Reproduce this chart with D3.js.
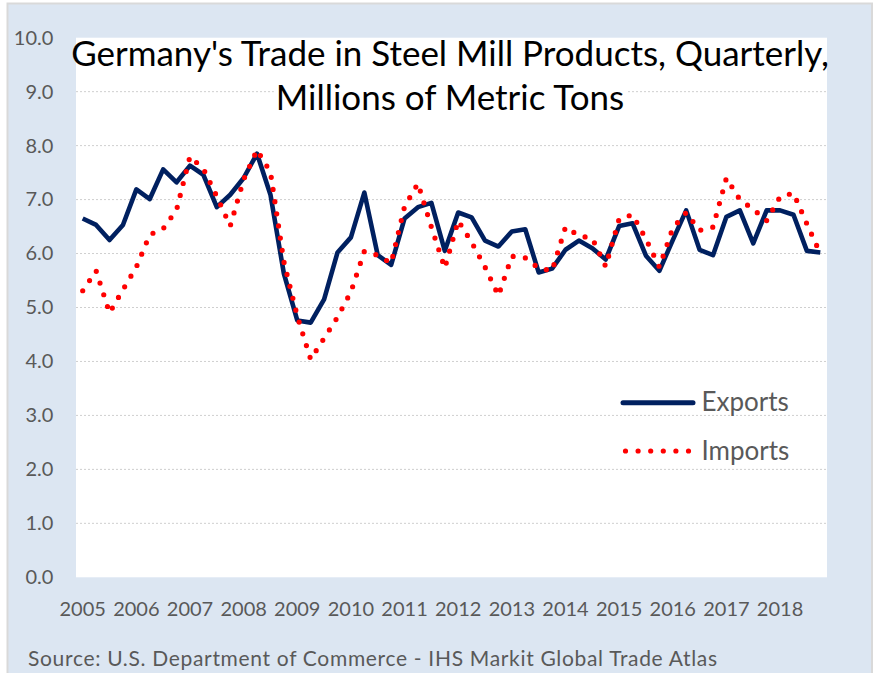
<!DOCTYPE html>
<html>
<head>
<meta charset="utf-8">
<script src="https://cdn.jsdelivr.net/npm/d3@7"></script>
<style>
  html, body { margin: 0; padding: 0; background: #fff; }
  svg { display: block; }
</style>
</head>
<body>
<div id="chart"></div>
<script>
// Data (millions of metric tons, quarterly)
const years = ["2005", "2006", "2007", "2008", "2009", "2010", "2011",
               "2012", "2013", "2014", "2015", "2016", "2017", "2018"];
const quarters = ["Q1", "Q2", "Q3", "Q4"];

const exportsData = [
  6.65, 6.53, 6.25, 6.53,  7.19, 7.01, 7.56, 7.32,  7.63, 7.46, 6.86, 7.09,
  7.40, 7.85, 7.09, 5.63,  4.76, 4.72, 5.15, 6.02,  6.30, 7.13, 5.97, 5.79,
  6.65, 6.86, 6.94, 6.05,  6.76, 6.67, 6.24, 6.13,  6.41, 6.45, 5.65, 5.72,
  6.07, 6.24, 6.10, 5.89,  6.51, 6.56, 5.96, 5.68,  6.25, 6.80, 6.07, 5.97,
  6.68, 6.80, 6.19, 6.80,  6.80, 6.72, 6.05, 6.02
];
const importsData = [
  5.31, 5.68, 4.90, 5.33,  5.75, 6.35, 6.46, 6.81,  7.80, 7.57, 7.06, 6.51,
  7.37, 7.92, 7.51, 5.85,  4.84, 4.04, 4.43, 4.82,  5.29, 6.04, 5.97, 5.82,
  6.87, 7.30, 6.49, 5.73,  6.61, 6.21, 5.75, 5.22,  5.95, 5.92, 5.73, 5.68,
  6.49, 6.33, 6.28, 5.76,  6.64, 6.72, 6.27, 5.75,  6.47, 6.76, 6.43, 6.49,
  7.40, 7.00, 6.82, 6.61,  7.05, 7.12, 6.55, 6.00
];

const yTicks = [0, 1, 2, 3, 4, 5, 6, 7, 8, 9, 10];
const gridValues = [1, 2, 3, 4, 5, 6, 7, 8, 9];
const seriesNames = ["Exports", "Imports"];
const titleLines = ["Germany's Trade in Steel Mill Products, Quarterly,",
                    "Millions of Metric Tons"];
const sourceText = "Source: U.S. Department of Commerce - IHS Markit Global Trade Atlas";

// Layout
const width = 874, height = 673;
const plot = { left: 76, right: 827, top: 37.7, bottom: 577.3 };
const font = "Lato, 'Open Sans', sans-serif";
const grey = "#595959";
const navy = "#002060";
const red = "#ff0000";

const periods = years.flatMap(y => quarters.map(q => `${y} ${q}`));

const svg = d3.select("#chart").append("svg")
    .attr("width", width)
    .attr("height", height)
    .style("font-family", font);

// chart background + plot area
svg.append("rect")
    .attr("x", 7.5).attr("y", 3.5)
    .attr("width", 864.5).attr("height", 680)
    .attr("fill", "#dce6f2")
    .attr("stroke", "#d9d9d9")
    .attr("stroke-width", 2);

svg.append("rect")
    .attr("x", plot.left).attr("y", plot.top)
    .attr("width", plot.right - plot.left)
    .attr("height", plot.bottom - plot.top)
    .attr("fill", "#fff");

// Scales
const x = d3.scaleBand()
    .domain(periods)
    .range([plot.left, plot.right])
    .padding(0);
const cx = p => x(p) + x.bandwidth() / 2;

const y = d3.scaleLinear()
    .domain([0, 10])
    .range([plot.bottom, plot.top]);

// Gridlines
svg.append("g")
  .selectAll("line")
  .data(gridValues)
  .enter().append("line")
    .attr("x1", plot.left)
    .attr("x2", plot.right)
    .attr("y1", d => y(d))
    .attr("y2", d => y(d))
    .attr("stroke", "#cfcfcf")
    .attr("stroke-width", 1)
    .attr("stroke-dasharray", "2 2");

// Y axis
svg.append("g")
    .attr("transform", `translate(${plot.left},0)`)
    .call(d3.axisLeft(y).tickValues(yTicks).tickSize(0).tickPadding(22.7)
        .tickFormat(d3.format(".1f")))
    .call(g => g.select(".domain").remove())
    .call(g => g.attr("font-family", font).attr("font-size", 20))
    .selectAll("text").attr("fill", grey);

// X axis
svg.append("g")
    .attr("transform", `translate(0,${plot.bottom})`)
    .call(d3.axisBottom(x)
        .tickValues(periods.filter(p => p.endsWith("Q1")))
        .tickFormat(p => p.slice(0, 4))
        .tickSize(0).tickPadding(25))
    .call(g => g.select(".domain").remove())
    .call(g => g.attr("font-family", font).attr("font-size", 20))
    .selectAll("text").attr("fill", grey);

// Title (second line sits on the 9.0 gridline, so it gets a white box)
const titleG = svg.append("g");
const titleText = titleG.selectAll("text")
    .data(titleLines)
  .enter().append("text")
    .attr("x", 450)
    .attr("y", (d, i) => i === 0 ? 65.7 : 110)
    .attr("text-anchor", "middle")
    .attr("fill", "#000")
    .style("font-size", "30px")
    .text(d => d);
const measured = titleText.nodes()[0].getComputedTextLength();
titleText.style("font-size", `${30 * 758 / measured}px`);
const b2 = titleText.nodes()[1].getBBox();
titleG.insert("rect", "text")
    .attr("x", b2.x - 2).attr("y", b2.y + 4)
    .attr("width", b2.width + 4).attr("height", b2.height - 6)
    .attr("fill", "#fff");

// Lines
const line = d3.line()
    .x((d, i) => cx(periods[i]))
    .y(d => y(d));

svg.append("path")
    .datum(exportsData)
    .attr("fill", "none")
    .attr("stroke", navy)
    .attr("stroke-width", 4.6)
    .attr("stroke-linejoin", "round")
    .attr("d", line);

svg.append("path")
    .datum(importsData)
    .attr("fill", "none")
    .attr("stroke", red)
    .attr("stroke-width", 5.2)
    .attr("stroke-linecap", "round")
    .attr("stroke-dasharray", "0 12.3")
    .attr("d", line);

// Legend
const legend = svg.selectAll(".legend")
    .data(seriesNames)
  .enter().append("g")
    .attr("class", "legend")
    .attr("transform", (d, i) => `translate(0,${402.7 + i * 48.3})`);

legend.append("line")
    .attr("x1", d => d === "Exports" ? 623 : 625.5)
    .attr("x2", d => d === "Exports" ? 693 : 690)
    .attr("stroke", d => d === "Exports" ? navy : red)
    .attr("stroke-width", d => d === "Exports" ? 5 : 5.2)
    .attr("stroke-linecap", "round")
    .attr("stroke-dasharray", d => d === "Exports" ? null : "0 12.6");

legend.append("text")
    .attr("x", 701.5)
    .attr("y", 8.5)
    .attr("fill", grey)
    .style("font-size", "26px")
    .text(d => d);

// Source note
svg.append("text")
    .attr("x", 28)
    .attr("y", 666)
    .attr("fill", grey)
    .attr("textLength", 689)
    .attr("lengthAdjust", "spacing")
    .style("font-size", "21px")
    .text(sourceText);
</script>
</body>
</html>
